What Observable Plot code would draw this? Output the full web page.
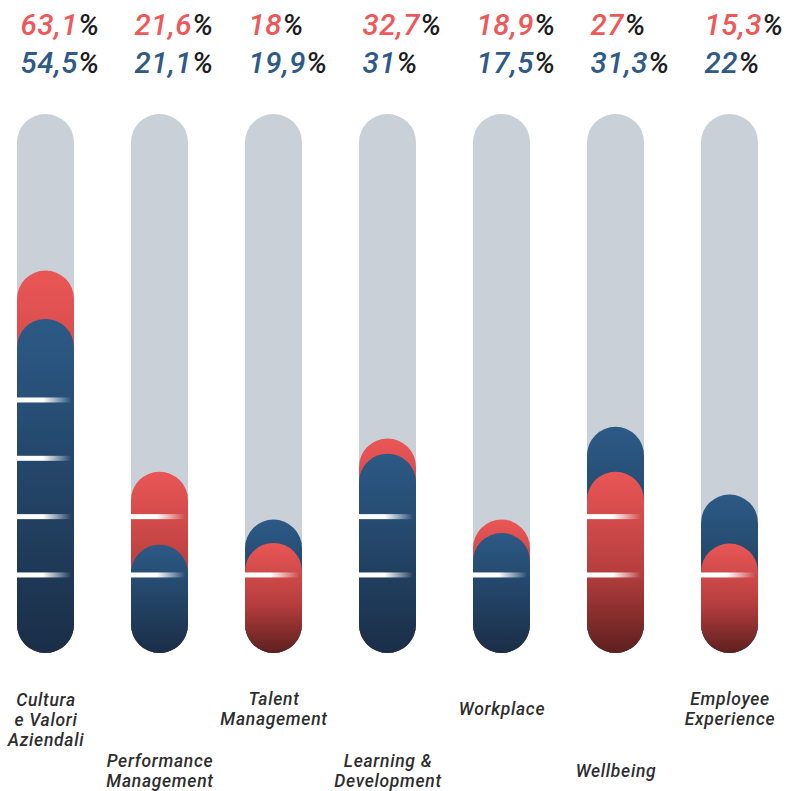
<!DOCTYPE html>
<html>
<head>
<meta charset="utf-8">
<script src="https://cdn.jsdelivr.net/npm/d3@7"></script>
<script src="https://cdn.jsdelivr.net/npm/@observablehq/plot@0.6"></script>
<style>
  html, body { margin: 0; padding: 0; background: #fff; }
  #chart svg { display: block; }
  #chart g.lbl text { letter-spacing: 0.7px; }
  #chart g.pct text { letter-spacing: 0.6px; }
</style>
</head>
<body>
<div id="chart"></div>
<script>
// Categories (bottom labels)
const categories = [
  "Cultura\ne Valori\nAziendali",
  "Performance\nManagement",
  "Talent\nManagement",
  "Learning &\nDevelopment",
  "Workplace",
  "Wellbeing",
  "Employee\nExperience"
];
// Printed percentages (top labels)
const redLabels  = ["63,1", "21,6", "18",   "32,7", "18,9", "27",   "15,3"];
const blueLabels = ["54,5", "21,1", "19,9", "31",   "17,5", "31,3", "22"];
// Bar lengths as drawn (same % units as the guide ticks)
const redBars  = [62.2, 27.7, 15.5, 33.4, 19.5, 27.7, 15.4];
const blueBars = [53.9, 15.2, 19.5, 30.8, 17.2, 35.4, 23.8];
// Guide tick levels (white marks)
const tickLevels = [10, 20, 30, 40];
// Track extent (value units)
const trackMin = -3.38;
const trackMax = 89.03;

const capR = 28.5;

// Build tables
const track = categories.map(c => ({cat: c}));
const bars = [];
categories.forEach((c, i) => {
  const pair = [
    {cat: c, series: "red", value: redBars[i]},
    {cat: c, series: "blue", value: blueBars[i]}
  ].sort((a, b) => b.value - a.value); // taller bar drawn first (behind)
  bars.push(...pair);
});
const ticks = [];
categories.forEach((c, i) => {
  const top = Math.max(redBars[i], blueBars[i]);
  tickLevels.forEach(t => { if (t <= top - 6) ticks.push({cat: c, level: t}); });
});
const topLabels = categories.map((c, i) => ({cat: c, red: redLabels[i], blue: blueLabels[i], i}));
const nLines = s => s.split("\n").length;

const labelFont = {fontFamily: "Roboto, 'Liberation Sans', sans-serif", fontStyle: "italic", fontWeight: 500, fontSize: 17.5, lineHeight: 1.15, fill: "#2e2e2e", textAnchor: "middle", lineAnchor: "middle", frameAnchor: "bottom", className: "lbl"};
const numFont = {fontFamily: "Roboto, 'Liberation Sans', sans-serif", fontStyle: "italic", fontWeight: 500, fontSize: 29.5, textAnchor: "start", lineAnchor: "bottom", frameAnchor: "top", dx: -capR + 3, className: "pct"};

const svg = Plot.plot({
  width: 799,
  height: 791,
  marginTop: 114,
  marginBottom: 138,
  marginLeft: 16.45,
  marginRight: 40.45,
  x: {domain: categories, paddingInner: 0.5, paddingOuter: 0, axis: null},
  y: {domain: [trackMin, trackMax], axis: null},
  color: {type: "identity"},
  marks: [
    // grey track
    Plot.barY(track, {x: "cat", y1: () => trackMin, y2: () => trackMax, fill: "#c9d0d7", rx: capR, ry: capR}),
    // coloured capsules
    Plot.barY(bars, {x: "cat", y1: () => trackMin, y2: "value",
      fill: d => d.series === "red" ? "url(#gRed)" : "url(#gBlue)", rx: capR, ry: capR}),
    // white guide marks
    Plot.barY(ticks, {x: "cat", y1: "level", y2: "level", insetTop: -2.5, insetBottom: -2.5, fill: "url(#gTick)"}),
    // top percentages
    Plot.text(topLabels, {x: "cat", text: "red", fill: "#ee5858", dy: 34 - 114, ...numFont}),
    Plot.text(topLabels, {x: "cat", text: "blue", fill: "#2d5a86", dy: 72 - 114, ...numFont}),
    // bottom category labels
    Plot.text(categories.filter((c, i) => i % 2 === 0 && nLines(c) < 3), {x: d => d, text: d => d, dy: 708 - 653, ...labelFont}),
    Plot.text(categories.filter((c, i) => i % 2 === 0 && nLines(c) >= 3), {x: d => d, text: d => d, dy: 719 - 653, ...labelFont}),
    Plot.text(categories.filter((c, i) => i % 2 === 1), {x: d => d, text: d => d, dy: 770 - 653, ...labelFont})
  ]
});

// gradients
const defs = d3.select(svg).insert("defs", ":first-child");
const gb = defs.append("linearGradient").attr("id", "gBlue").attr("x1", 0).attr("y1", 0).attr("x2", 0).attr("y2", 1);
gb.append("stop").attr("offset", 0).attr("stop-color", "#2c5a86");
gb.append("stop").attr("offset", 1).attr("stop-color", "#1a2e47");
const gr = defs.append("linearGradient").attr("id", "gRed").attr("x1", 0).attr("y1", 0).attr("x2", 0).attr("y2", 1);
gr.append("stop").attr("offset", 0).attr("stop-color", "#ea5656");
gr.append("stop").attr("offset", 0.55).attr("stop-color", "#b73e3e");
gr.append("stop").attr("offset", 1).attr("stop-color", "#5e1f1f");
const gt = defs.append("linearGradient").attr("id", "gTick").attr("x1", 0).attr("y1", 0).attr("x2", 1).attr("y2", 0);
gt.append("stop").attr("offset", 0).attr("stop-color", "#fff").attr("stop-opacity", 1);
gt.append("stop").attr("offset", 0.45).attr("stop-color", "#fff").attr("stop-opacity", 1);
gt.append("stop").attr("offset", 0.95).attr("stop-color", "#fff").attr("stop-opacity", 0);

// black "%" after each number
d3.select(svg).selectAll("g.pct text").each(function() {
  d3.select(this).append("tspan").attr("fill", "#1d1d1d").text("%");
});

document.getElementById("chart").appendChild(svg);
</script>
</body>
</html>
